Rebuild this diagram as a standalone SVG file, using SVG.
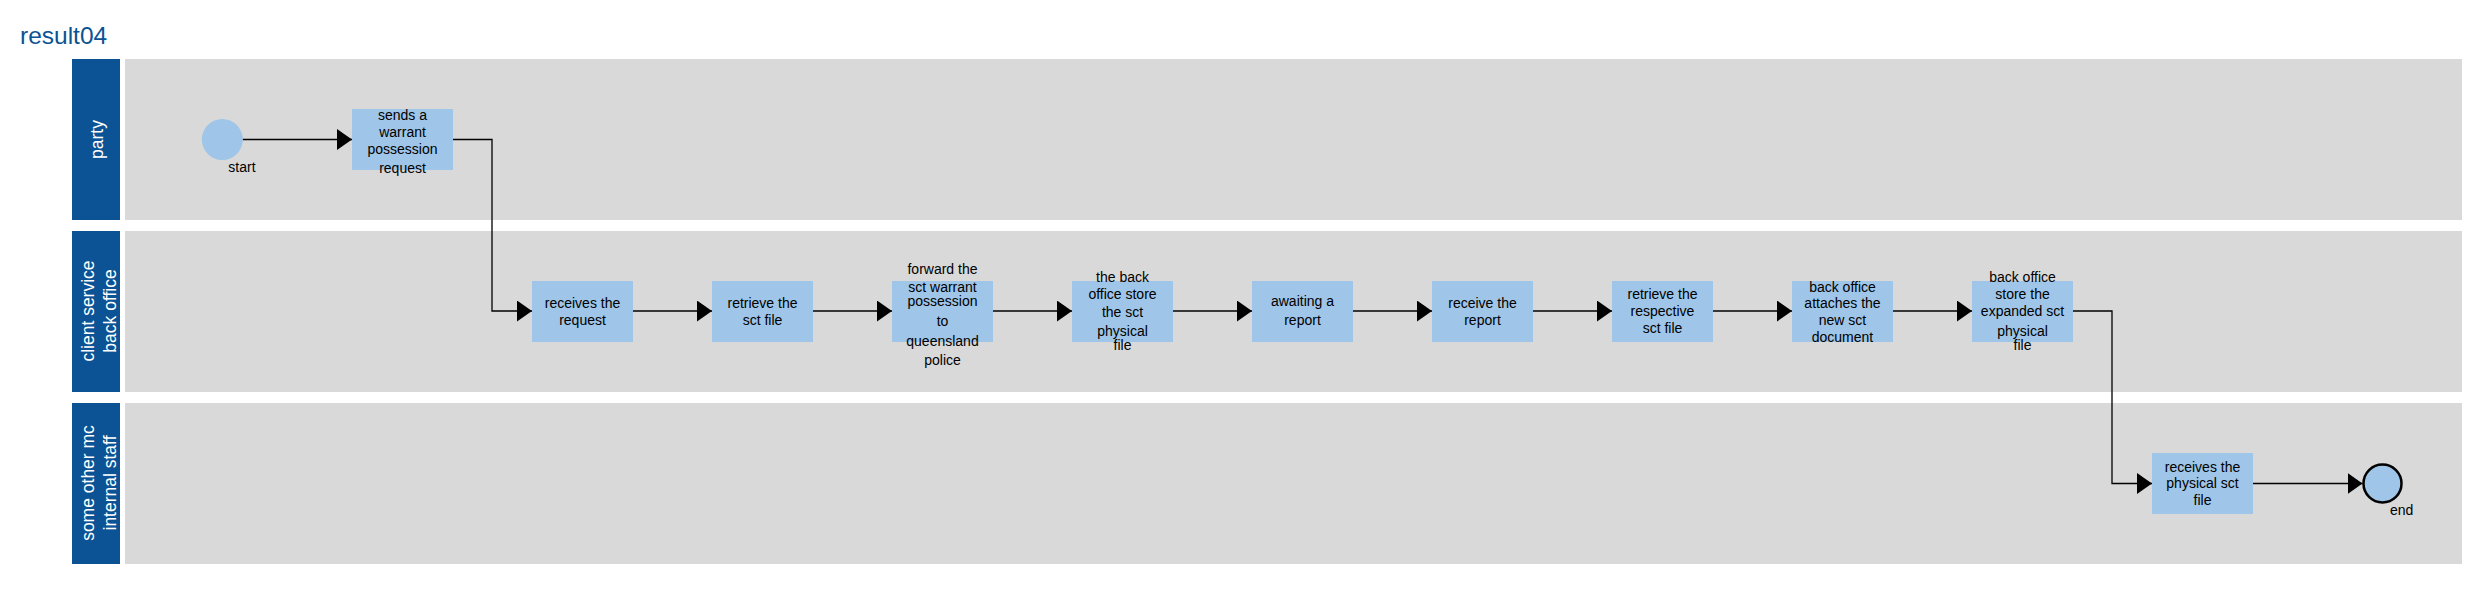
<svg xmlns="http://www.w3.org/2000/svg" width="2479" height="605" viewBox="0 0 2479 605">
<style>
.lab{fill:#0b5394}
.body{fill:#d9d9d9}
.task{fill:#9fc5e8}
.lt{font-family:"Liberation Sans",Arial,sans-serif;font-size:17.5px;fill:#ffffff;text-anchor:middle}
.t{font-family:"Liberation Sans",Arial,sans-serif;font-size:14px;fill:#000000;text-anchor:middle}
.tl{font-family:"Liberation Sans",Arial,sans-serif;font-size:14px;fill:#000000}
.c{fill:none;stroke:#000000;stroke-width:1.3}
</style>
<defs>
<marker id="ah" markerUnits="userSpaceOnUse" markerWidth="15" markerHeight="21" refX="15" refY="10.5" orient="auto">
<path d="M0,0 L15,10.5 L0,21 z" fill="#000000"/>
</marker>
</defs>
<rect width="2479" height="605" fill="#ffffff"/>
<text x="20" y="44" font-family="Liberation Sans,Arial,sans-serif" font-size="24.5" fill="#0b5394">result04</text>

<g id="lane-party">
<rect class="lab" x="72" y="59" width="48" height="161"/>
<rect class="body" x="125" y="59" width="2337" height="161"/>
<text class="lt" transform="translate(103,139.5) rotate(-90)">party</text>
</g>
<g id="lane-client-service">
<rect class="lab" x="72" y="231" width="48" height="161"/>
<rect class="body" x="125" y="231" width="2337" height="161"/>
<text class="lt" transform="translate(93.5,311) rotate(-90)">client service</text>
<text class="lt" transform="translate(116,311) rotate(-90)">back office</text>
</g>
<g id="lane-other-staff">
<rect class="lab" x="72" y="403" width="48" height="161"/>
<rect class="body" x="125" y="403" width="2337" height="161"/>
<text class="lt" transform="translate(93.5,483) rotate(-90)">some other mc</text>
<text class="lt" transform="translate(116,483) rotate(-90)">internal staff</text>
</g>

<g id="connectors">
<path class="c" d="M242.5,139.5 H352" marker-end="url(#ah)"/>
<path class="c" d="M453,139.5 H492 V311 H532" marker-end="url(#ah)"/>
<path class="c" d="M633,311 H712" marker-end="url(#ah)"/>
<path class="c" d="M813,311 H892" marker-end="url(#ah)"/>
<path class="c" d="M993,311 H1072" marker-end="url(#ah)"/>
<path class="c" d="M1173,311 H1252" marker-end="url(#ah)"/>
<path class="c" d="M1353,311 H1432" marker-end="url(#ah)"/>
<path class="c" d="M1533,311 H1612" marker-end="url(#ah)"/>
<path class="c" d="M1713,311 H1792" marker-end="url(#ah)"/>
<path class="c" d="M1893,311 H1972" marker-end="url(#ah)"/>
<path class="c" d="M2073,311 H2112 V483.5 H2152" marker-end="url(#ah)"/>
<path class="c" d="M2253,483.5 H2362.5" marker-end="url(#ah)"/>
</g>

<g id="start">
<circle cx="222.3" cy="139.5" r="20.5" fill="#9fc5e8"/>
<text class="tl" x="228.3" y="171.7">start</text>
</g>
<g id="t-sends">
<rect class="task" x="352" y="109" width="101" height="61"/>
<text class="t" x="402.5" y="120">sends a</text>
<text class="t" x="402.5" y="136.7">warrant</text>
<text class="t" x="402.5" y="154.3">possession</text>
<text class="t" x="402.5" y="173.3">request</text>
</g>
<g id="t-receives">
<rect class="task" x="532" y="281" width="101" height="61"/>
<text class="t" x="582.5" y="308.3">receives the</text>
<text class="t" x="582.5" y="325">request</text>
</g>
<g id="t-retrieve">
<rect class="task" x="712" y="281" width="101" height="61"/>
<text class="t" x="762.5" y="308.3">retrieve the</text>
<text class="t" x="762.5" y="325">sct file</text>
</g>
<g id="t-forward">
<rect class="task" x="892" y="281" width="101" height="61"/>
<text class="t" x="942.5" y="274">forward the</text>
<text class="t" x="942.5" y="291.7">sct warrant</text>
<text class="t" x="942.5" y="305.5">possession</text>
<text class="t" x="942.5" y="325.7">to</text>
<text class="t" x="942.5" y="345.7">queensland</text>
<text class="t" x="942.5" y="365">police</text>
</g>
<g id="t-store">
<rect class="task" x="1072" y="281" width="101" height="61"/>
<text class="t" x="1122.5" y="282.3">the back</text>
<text class="t" x="1122.5" y="299">office store</text>
<text class="t" x="1122.5" y="316.7">the sct</text>
<text class="t" x="1122.5" y="336">physical</text>
<text class="t" x="1122.5" y="350">file</text>
</g>
<g id="t-awaiting">
<rect class="task" x="1252" y="281" width="101" height="61"/>
<text class="t" x="1302.5" y="306">awaiting a</text>
<text class="t" x="1302.5" y="325">report</text>
</g>
<g id="t-receive-report">
<rect class="task" x="1432" y="281" width="101" height="61"/>
<text class="t" x="1482.5" y="308.3">receive the</text>
<text class="t" x="1482.5" y="325">report</text>
</g>
<g id="t-retrieve-respective">
<rect class="task" x="1612" y="281" width="101" height="61"/>
<text class="t" x="1662.5" y="299.3">retrieve the</text>
<text class="t" x="1662.5" y="315.7">respective</text>
<text class="t" x="1662.5" y="333.3">sct file</text>
</g>
<g id="t-attaches">
<rect class="task" x="1792" y="281" width="101" height="61"/>
<text class="t" x="1842.5" y="291.7">back office</text>
<text class="t" x="1842.5" y="308.3">attaches the</text>
<text class="t" x="1842.5" y="325">new sct</text>
<text class="t" x="1842.5" y="341.7">document</text>
</g>
<g id="t-store-expanded">
<rect class="task" x="1972" y="281" width="101" height="61"/>
<text class="t" x="2022.5" y="282.3">back office</text>
<text class="t" x="2022.5" y="299">store the</text>
<text class="t" x="2022.5" y="315.7">expanded sct</text>
<text class="t" x="2022.5" y="336">physical</text>
<text class="t" x="2022.5" y="350">file</text>
</g>
<g id="t-receives-physical">
<rect class="task" x="2152" y="453" width="101" height="61"/>
<text class="t" x="2202.5" y="471.7">receives the</text>
<text class="t" x="2202.5" y="487.7">physical sct</text>
<text class="t" x="2202.5" y="505">file</text>
</g>
<g id="end">
<circle cx="2382.5" cy="483.5" r="19" fill="#9fc5e8" stroke="#000000" stroke-width="2.5"/>
<text class="tl" x="2390" y="515">end</text>
</g>
</svg>
